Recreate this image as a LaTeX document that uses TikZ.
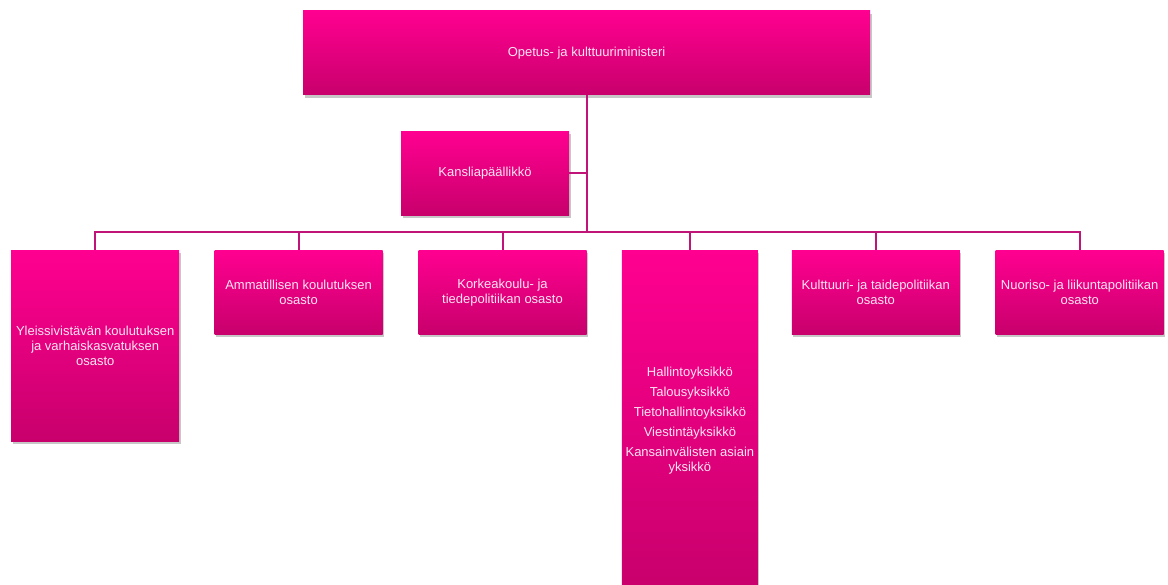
\documentclass[tikz,border=0pt]{standalone}
\usepackage{fontspec}
\setmainfont{Liberation Sans}
\usetikzlibrary{positioning, shadows}
\definecolor{boxtop}{RGB}{255,0,144}
\definecolor{boxbot}{RGB}{200,0,108}
\definecolor{linkc}{RGB}{192,20,120}
\definecolor{txtc}{RGB}{255,228,242}
\tikzset{
  unit/.style={rectangle, minimum width=168pt, minimum height=84pt, inner sep=0pt,
    top color=boxtop, bottom color=boxbot, text=txtc, align=center,
    drop shadow={shadow xshift=1.5pt, shadow yshift=-3pt, opacity=0.22, fill=black}},
  tall/.style={unit, minimum height=191pt},
  staff/.style={unit, minimum width=136pt, minimum height=340pt},
  link/.style={draw=linkc, line width=2pt},
}

\begin{document}
\begin{tikzpicture}[x=1pt, y=1pt, font=\fontsize{13}{15}\selectfont]
  \useasboundingbox (0,0) rectangle (1168,-585);
  \node[unit, minimum width=567pt] (min) at (586.5,-53) {Opetus- ja kulttuuriministeri};
  \node[unit, below right=36pt and 98pt of min.south west] (kansl) {Kansliapäällikkö};

  \node[tall, anchor=north west] (yleis) at (11,-250) {Yleissivistävän koulutuksen\\ja varhaiskasvatuksen\\osasto};
  \node[unit, below right=0pt and 35pt of yleis.north east] (ammat) {Ammatillisen koulutuksen\\osasto};
  \node[unit, below right=0pt and 35.5pt of ammat.north east] (korkea) {Korkeakoulu- ja\\tiedepolitiikan osasto};
  \node[staff, below right=0pt and 35pt of korkea.north east] (yks)
    {Hallintoyksikkö\\[5pt]Talousyksikkö\\[5pt]Tietohallintoyksikkö\\[5pt]Viestintäyksikkö\\[5pt]Kansainvälisten asiain\\yksikkö};
  \node[unit, below right=0pt and 33.5pt of yks.north east] (kult) {Kulttuuri- ja taidepolitiikan\\osasto};
  \node[unit, below right=0pt and 35.5pt of kult.north east] (nuor) {Nuoriso- ja liikuntapolitiikan\\osasto};

  \draw[link] (min.south) -- ++(0,-137) coordinate (bus);
  \draw[link] (kansl.east) -- (kansl.east -| min.south);
  \foreach \c in {yleis, ammat, korkea, yks, kult, nuor}
    \draw[link] (\c.north) |- (bus);
\end{tikzpicture}
\end{document}
